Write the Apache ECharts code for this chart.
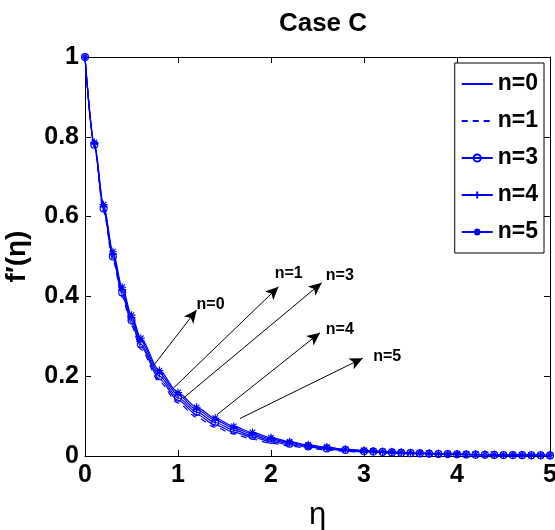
<!DOCTYPE html>
<html>
<head>
<meta charset="utf-8">
<script src="https://cdn.jsdelivr.net/npm/echarts@6/dist/echarts.min.js"></script>
<style>
  html, body { margin: 0; padding: 0; background: #fff; }
  #chart { width: 555px; height: 530px; }
</style>
</head>
<body>
<div id="chart"></div>
<script>
// eta grid shared by all curves
const eta = [0, 0.1, 0.2, 0.3, 0.4, 0.5, 0.6, 0.8, 1.0, 1.2, 1.4, 1.6, 1.8, 2.0, 2.2, 2.4, 2.6, 2.8,
  3.0, 3.1, 3.2, 3.3, 3.4, 3.5, 3.6, 3.7, 3.8, 3.9, 4.0, 4.1, 4.2, 4.3, 4.4, 4.5, 4.6, 4.7, 4.8, 4.9, 5.0]

const n0 = [1, 0.777, 0.616, 0.495, 0.404, 0.333, 0.274, 0.193, 0.140, 0.104, 0.078, 0.060, 0.047, 0.036, 0.028, 0.022, 0.017, 0.013,
  0.0105, 0.0096, 0.0088, 0.008, 0.0072, 0.0065, 0.0059, 0.0053, 0.0048, 0.0043, 0.0039, 0.0035, 0.0032, 0.0029, 0.0026, 0.0023, 0.0021, 0.0019, 0.0017, 0.0015, 0.0013]
const n1 = [1, 0.775, 0.612, 0.490, 0.398, 0.326, 0.267, 0.186, 0.133, 0.097, 0.072, 0.055, 0.042, 0.032, 0.025, 0.019, 0.015, 0.012,
  0.009, 0.0082, 0.0075, 0.0068, 0.0062, 0.0056, 0.0051, 0.0046, 0.0042, 0.0038, 0.0034, 0.0031, 0.0028, 0.0025, 0.0023, 0.0021, 0.0019, 0.0017, 0.0015, 0.0013, 0.0012]
const n3 = [1, 0.780, 0.620, 0.500, 0.410, 0.340, 0.280, 0.200, 0.146, 0.110, 0.084, 0.065, 0.051, 0.040, 0.031, 0.024, 0.019, 0.015,
  0.012, 0.011, 0.010, 0.009, 0.008, 0.0072, 0.0065, 0.0058, 0.0052, 0.0047, 0.0042, 0.0038, 0.0034, 0.0031, 0.0028, 0.0025, 0.0023, 0.0021, 0.0019, 0.0017, 0.0015]
const n4 = [1, 0.783, 0.625, 0.506, 0.417, 0.347, 0.288, 0.207, 0.153, 0.116, 0.090, 0.070, 0.055, 0.043, 0.034, 0.026, 0.021, 0.016,
  0.013, 0.0118, 0.0107, 0.0097, 0.0087, 0.0078, 0.007, 0.0063, 0.0056, 0.005, 0.0045, 0.004, 0.0036, 0.0033, 0.003, 0.0027, 0.0024, 0.0022, 0.002, 0.0018, 0.0016]
const n5 = [1, 0.786, 0.630, 0.512, 0.423, 0.353, 0.295, 0.214, 0.159, 0.122, 0.095, 0.074, 0.059, 0.046, 0.036, 0.028, 0.022, 0.017,
  0.014, 0.0127, 0.0115, 0.0104, 0.0093, 0.0084, 0.0075, 0.0067, 0.006, 0.0054, 0.0048, 0.0043, 0.0039, 0.0035, 0.0031, 0.0028, 0.0025, 0.0023, 0.0021, 0.0019, 0.0017]

// annotation arrows (data coords): from curve to label
const arrowLabels = ['n=0', 'n=1', 'n=3', 'n=4', 'n=5']
const arrowFrom = [[0.735, 0.226], [0.95, 0.17], [1.057, 0.145], [1.416, 0.103], [1.667, 0.094]]
const arrowTo = [[1.20, 0.366], [2.08, 0.424], [2.545, 0.434], [2.527, 0.309], [2.986, 0.245]]
const labelAt = [[1.35, 0.38], [2.19, 0.456], [2.74, 0.451], [2.74, 0.316], [3.25, 0.249]]

const xTicks = [0, 1, 2, 3, 4, 5]
const yTicks = [0, 0.2, 0.4, 0.6, 0.8, 1]

const blue = '#0000ff'
const font = 'Liberation Sans, Arial, sans-serif'
const plusPath = 'path://M5 0L5 10M0 5L10 5'
const starPath = 'path://M5 0L5 10M0 5L10 5M1.5 1.5L8.5 8.5M8.5 1.5L1.5 8.5'

const pairs = (ys) => eta.map((x, i) => [x, ys[i]])

const chart = echarts.init(document.getElementById('chart'))

// fresh style objects per series
const makeLine = (name, ys, dashed, symbol, size) => ({
  type: 'line',
  name: name,
  data: pairs(ys),
  smooth: 0.3,
  smoothMonotone: 'x',
  animation: false,
  symbol: symbol || 'circle',
  symbolSize: size || 0,
  showSymbol: !!symbol,
  lineStyle: { color: blue, width: 1.2, type: dashed ? [6, 5] : 'solid' },
  itemStyle: { color: 'rgba(0,0,0,0)', borderColor: symbol ? blue : 'rgba(0,0,0,0)', borderWidth: 1.1 }
})

const s0 = makeLine('n=0', n0, false)
s0.markLine = {
  silent: true,
  animation: false,
  symbol: ['none', 'arrow'],
  symbolSize: [9, 13],
  label: { show: false },
  lineStyle: { color: '#000', width: 1, type: 'solid' },
  data: arrowFrom.map((p, i) => [{ coord: p }, { coord: arrowTo[i] }])
}
s0.markPoint = {
  silent: true,
  animation: false,
  symbol: 'circle',
  symbolSize: 0,
  label: {
    show: true,
    position: 'inside',
    formatter: '{b}',
    color: '#000',
    fontFamily: font,
    fontWeight: 'bold',
    fontSize: 16
  },
  data: labelAt.map((p, i) => ({ name: arrowLabels[i], coord: p }))
}

const series = [
  s0,
  makeLine('n=1', n1, true),
  makeLine('n=3', n3, false, 'circle', 7),
  makeLine('n=4', n4, false, plusPath, 8),
  makeLine('n=5', n5, false, starPath, 8)
]

const tickLabel = { color: '#000', fontFamily: font, fontWeight: 'bold', fontSize: 25 }
const frameAxis = {
  axisLine: { onZero: false, lineStyle: { color: '#000', width: 1 } },
  axisTick: { inside: true, length: 6, lineStyle: { color: '#000' } },
  splitLine: { show: false }
}

chart.setOption({
  backgroundColor: '#fff',
  animation: false,
  title: {
    text: 'Case C',
    left: 318,
    top: 6,
    textAlign: 'center',
    textStyle: { color: '#000', fontFamily: font, fontWeight: 'bold', fontSize: 26 }
  },
  grid: { left: 85, right: 5, top: 57, bottom: 74, show: false, outerBoundsMode: 'none', containLabel: false },
  legend: {
    orient: 'vertical',
    right: 11,
    top: 63,
    padding: [9, 6, 9, 6],
    itemGap: 13,
    itemWidth: 31,
    itemHeight: 9,
    backgroundColor: '#fff',
    borderColor: '#000',
    borderWidth: 1,
    borderRadius: 0,
    textStyle: { color: '#000', fontFamily: font, fontWeight: 'bold', fontSize: 23, lineHeight: 24 },
    data: ['n=0', 'n=1', 'n=3', 'n=4', 'n=5']
  },
  xAxis: [
    {
      type: 'value',
      min: 0,
      max: 5,
      interval: 1,
      name: 'η',
      nameLocation: 'middle',
      nameGap: 44,
      nameTextStyle: { color: '#000', fontFamily: font, fontSize: 31 },
      ...frameAxis,
      axisLabel: { ...tickLabel, margin: 7, formatter: (v) => xTicks.includes(v) ? String(v) : '' }
    },
    {
      type: 'value',
      position: 'top',
      min: 0,
      max: 5,
      interval: 1,
      ...frameAxis,
      axisLabel: { show: false }
    }
  ],
  yAxis: [
    {
      type: 'value',
      min: 0,
      max: 1,
      interval: 0.2,
      name: 'f′(η)',
      nameLocation: 'middle',
      nameGap: 54,
      nameRotate: 90,
      nameTextStyle: { color: '#000', fontFamily: font, fontWeight: 'bold', fontSize: 28 },
      ...frameAxis,
      axisLabel: { ...tickLabel, margin: 6, formatter: (v) => {
        const t = yTicks.find((y) => Math.abs(y - v) < 1e-9)
        return t === undefined ? '' : String(t)
      } }
    },
    {
      type: 'value',
      position: 'right',
      min: 0,
      max: 1,
      interval: 0.2,
      ...frameAxis,
      axisLabel: { show: false }
    }
  ],
  series
})
</script>
</body>
</html>
